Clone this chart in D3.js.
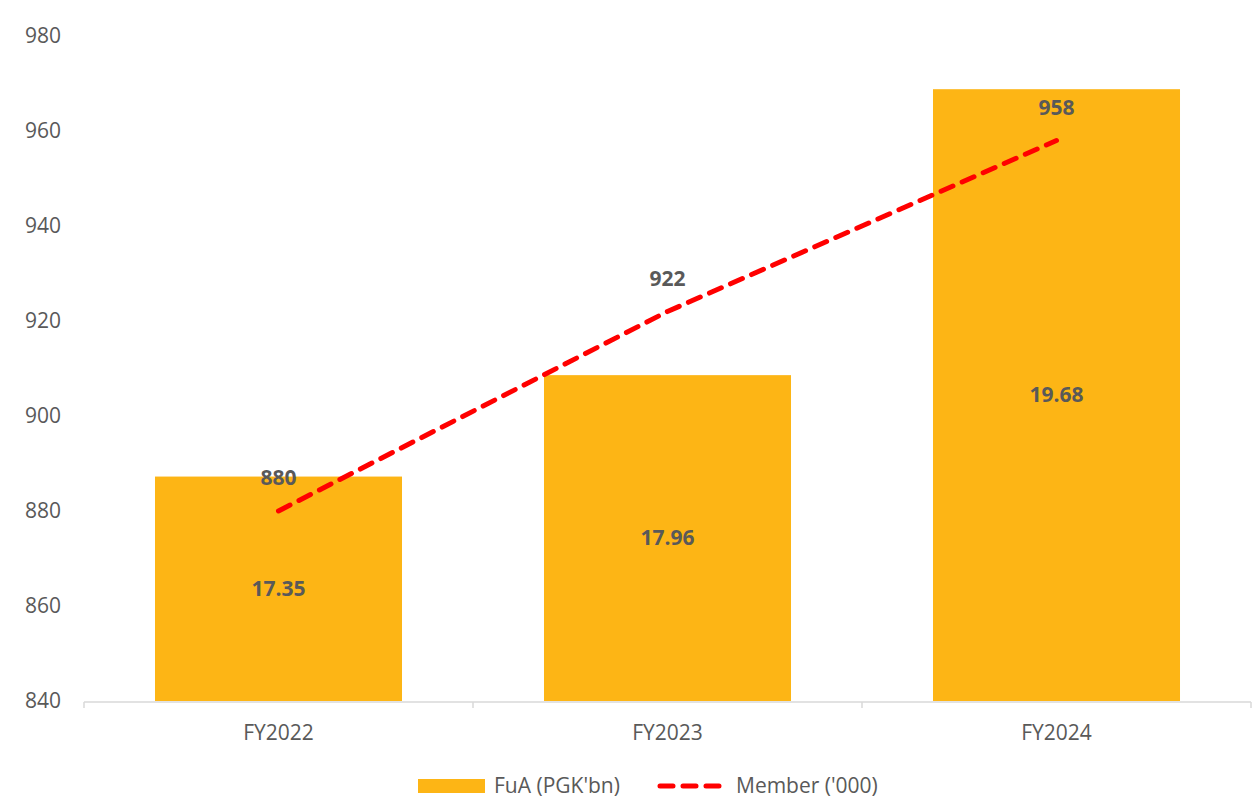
<!DOCTYPE html>
<html><head><meta charset="utf-8">
<script src="https://cdn.jsdelivr.net/npm/d3@7"></script>
<style>body{margin:0;background:#fff;} text{font-family:"Open Sans",sans-serif;}</style>
</head><body>
<svg id="c" width="1258" height="801"></svg>
<script>
const categories = ["FY2022","FY2023","FY2024"];
const fua = [17.35, 17.96, 19.68];
const members = [880, 922, 958];
const yTicks = [840,860,880,900,920,940,960,980];

(function(){
const svg = d3.select("#c");
const pL = 84, pR = 1251, pT = 36, pB = 701;
const fs = 21;
const x = d3.scaleBand().domain(categories).range([pL, pR]).paddingInner(0.365).paddingOuter(0.1825);
const y = d3.scaleLinear().domain([840, 980]).range([pB, pT]);
const y2 = d3.scaleLinear().domain([16, 20]).range([pB, pT]);

svg.append("g").selectAll("text").data(yTicks).join("text")
  .attr("x", 61).attr("y", d => y(d)).attr("dy", "0.35em")
  .attr("text-anchor", "end").attr("font-size", fs).attr("fill", "#595959")
  .text(d => d);

svg.append("g").selectAll("rect").data(fua).join("rect")
  .attr("x", (d,i) => x(categories[i])).attr("width", x.bandwidth())
  .attr("y", d => y2(d)).attr("height", d => pB - y2(d))
  .attr("fill", "#FDB515");

const xa = svg.append("g").attr("transform", `translate(0,${pB+1})`);
xa.append("line").attr("x1", pL).attr("x2", pR).attr("stroke", "#d9d9d9").attr("stroke-width", 1.5);
const step = (pR-pL)/categories.length;
xa.selectAll("line.t").data(d3.range(categories.length+1)).join("line").attr("class","t")
  .attr("x1", i => pL + i*step).attr("x2", i => pL + i*step).attr("y1", 0).attr("y2", 6)
  .attr("stroke", "#d9d9d9").attr("stroke-width", 1.5);
xa.selectAll("text").data(categories).join("text")
  .attr("x", d => x(d) + x.bandwidth()/2).attr("y", 31).attr("dy", "0.35em")
  .attr("text-anchor", "middle").attr("font-size", fs).attr("fill", "#595959").text(d => d);

svg.append("g").selectAll("text").data(fua).join("text")
  .attr("x", (d,i) => x(categories[i]) + x.bandwidth()/2)
  .attr("y", d => (y2(d) + pB)/2).attr("dy", "0.35em")
  .attr("text-anchor", "middle").attr("font-size", fs).attr("font-weight", "bold").attr("fill", "#595959")
  .text(d => d.toFixed(2));

const cx = i => x(categories[i]) + x.bandwidth()/2;
const line = d3.line().x((d,i) => cx(i)).y(d => y(d));
svg.append("path").datum(members).attr("d", line)
  .attr("fill", "none").attr("stroke", "#FF0000").attr("stroke-width", 5)
  .attr("stroke-dasharray", "13,10").attr("stroke-linecap", "round");

svg.append("g").selectAll("text").data(members).join("text")
  .attr("x", (d,i) => cx(i)).attr("y", d => y(d) - 33).attr("dy", "0.35em")
  .attr("text-anchor", "middle").attr("font-size", fs).attr("font-weight", "bold").attr("fill", "#595959")
  .text(d => d);

const lg = svg.append("g");
lg.append("rect").attr("x", 418).attr("y", 779).attr("width", 67).attr("height", 14).attr("fill", "#FDB515");
lg.append("text").attr("x", 494).attr("y", 786).attr("dy", "0.35em").attr("font-size", fs).attr("fill", "#595959").text("FuA (PGK'bn)");
lg.append("line").attr("x1", 660).attr("x2", 720).attr("y1", 786).attr("y2", 786)
  .attr("stroke", "#FF0000").attr("stroke-width", 5).attr("stroke-dasharray", "13,10").attr("stroke-linecap", "round");
lg.append("text").attr("x", 736).attr("y", 786).attr("dy", "0.35em").attr("font-size", fs).attr("fill", "#595959").text("Member ('000)");
})();
</script>
</body></html>
